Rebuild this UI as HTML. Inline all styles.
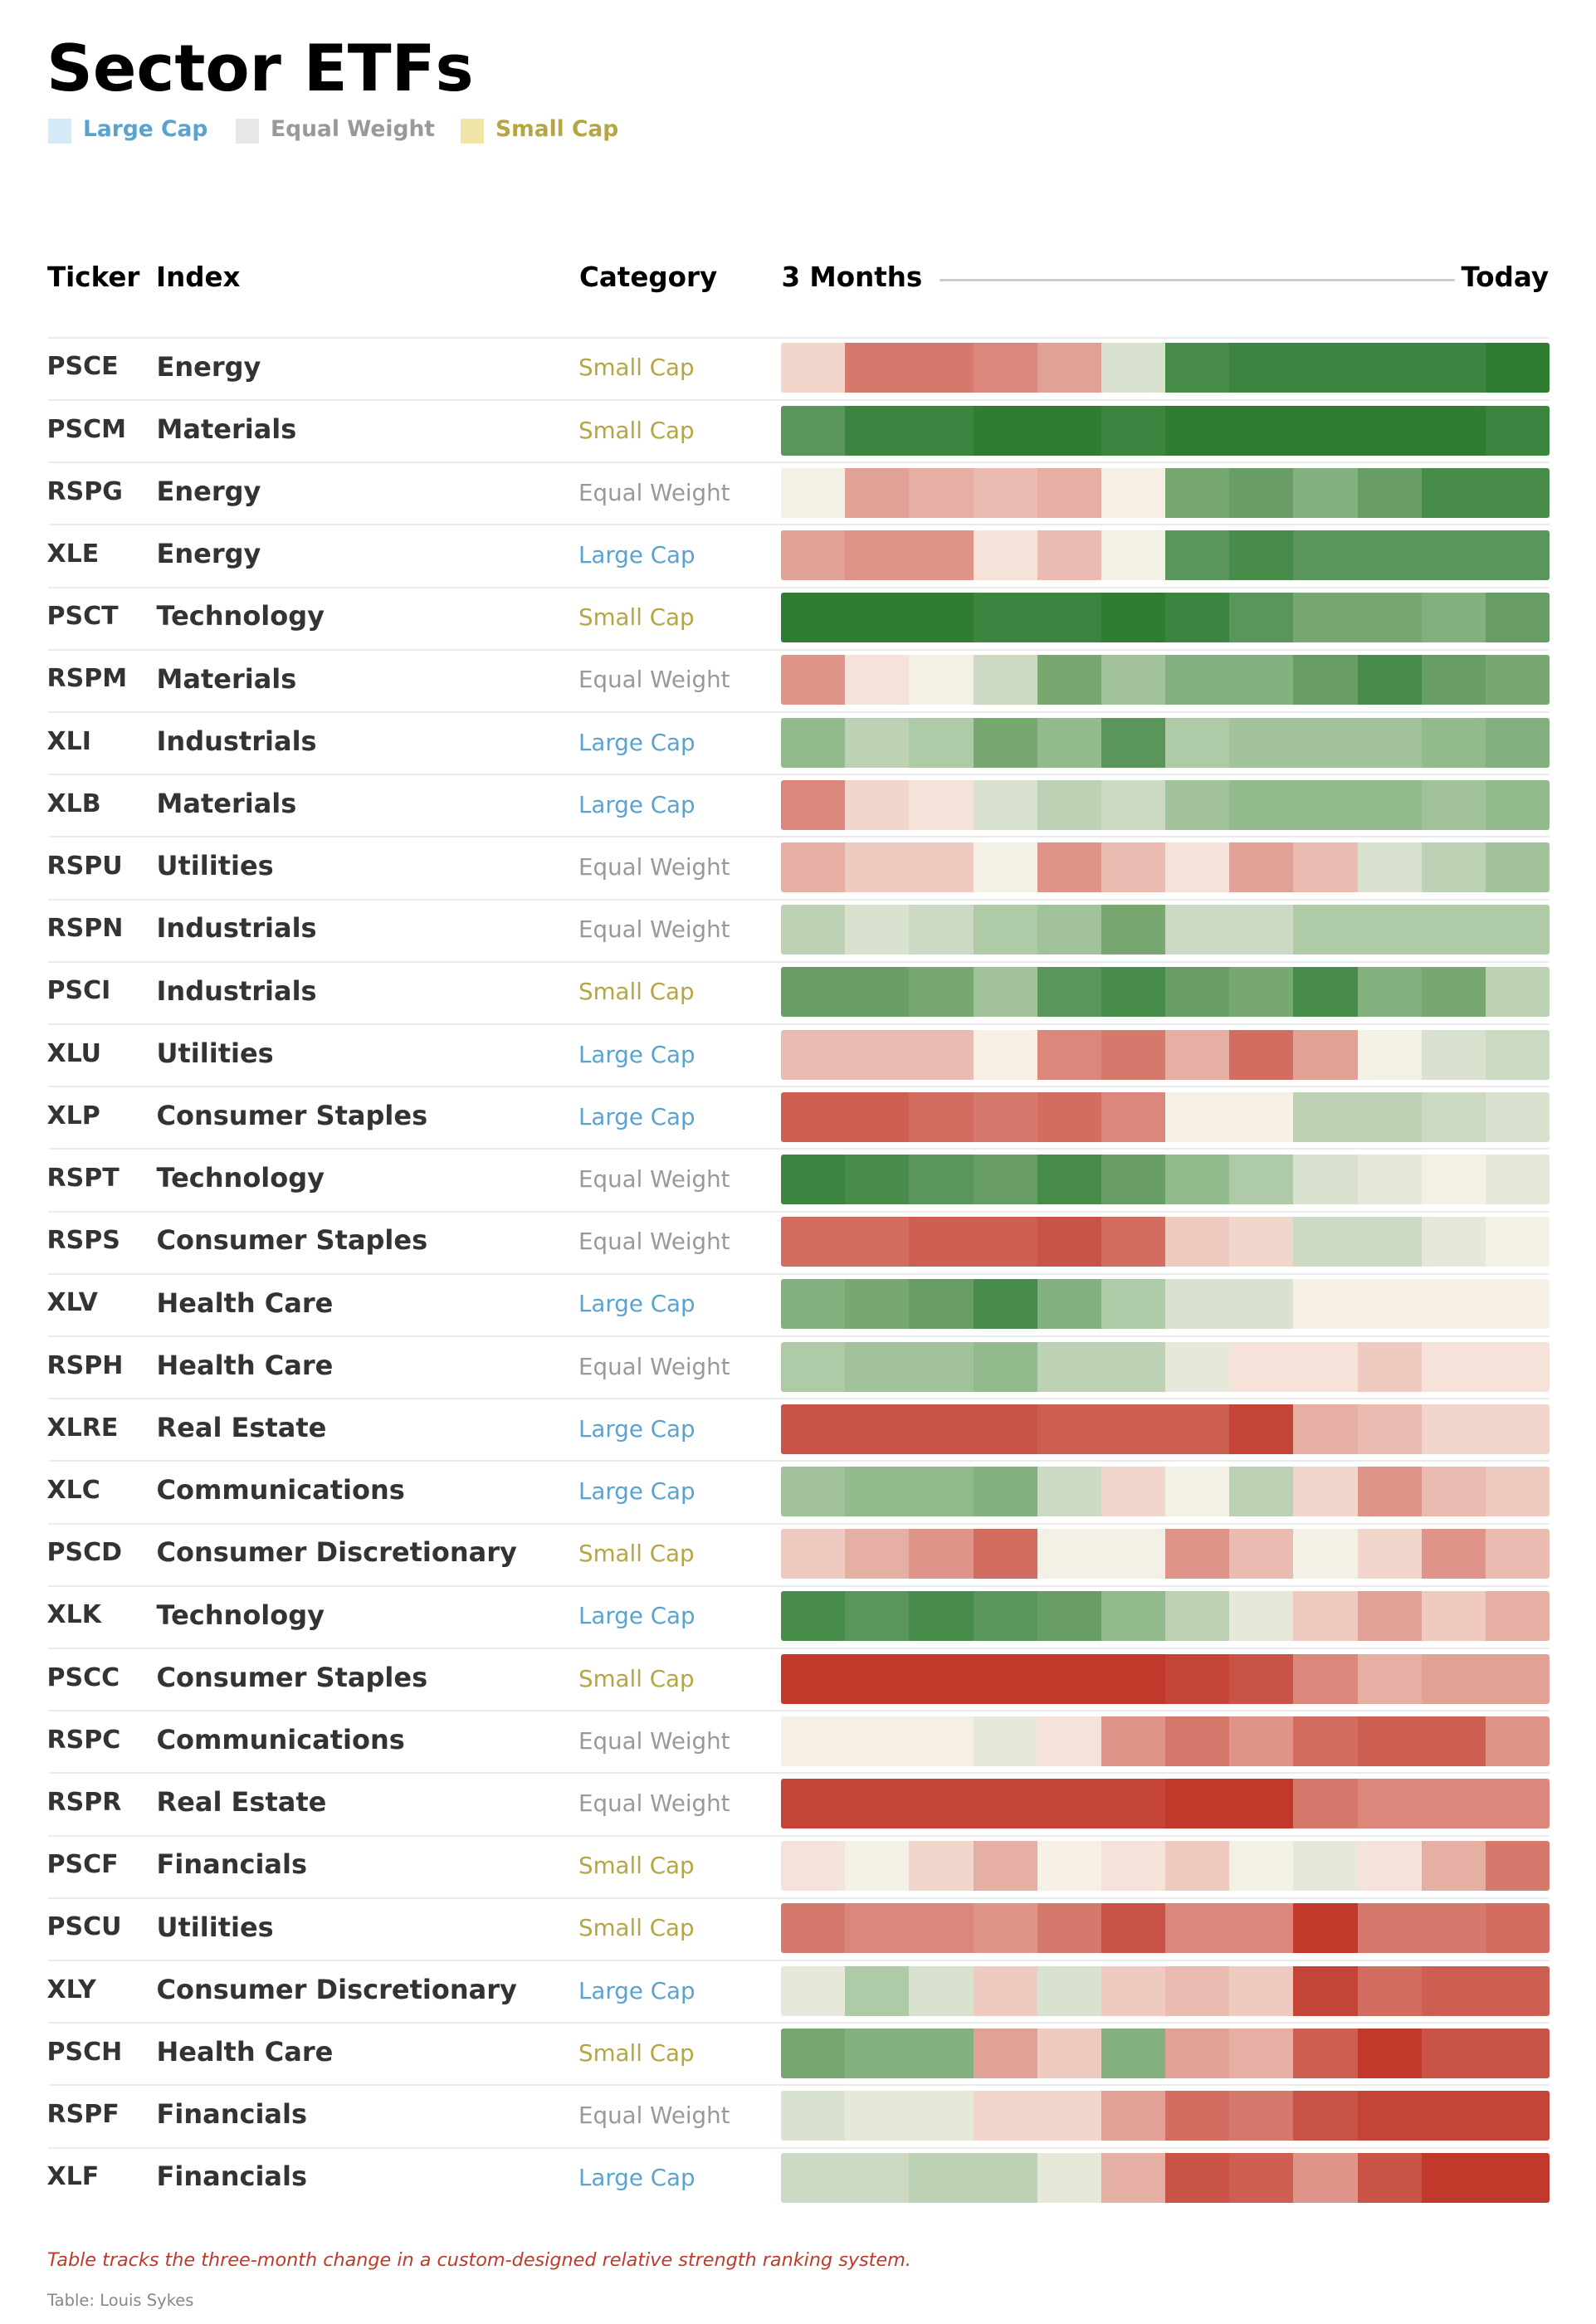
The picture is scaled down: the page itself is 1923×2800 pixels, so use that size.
<!DOCTYPE html>
<html>
<head>
<meta charset="utf-8">
<style>
html,body{margin:0;padding:0;background:#fff;}
body{width:1923px;height:2800px;position:relative;overflow:hidden;font-family:"DejaVu Sans","Liberation Sans",sans-serif;}
.a{position:absolute;white-space:nowrap;line-height:1;}
.title{left:56px;top:45px;font-size:77.5px;font-weight:bold;color:#000;}
.lg{top:143.3px;font-size:26.5px;font-weight:bold;}
.sq{position:absolute;top:143.3px;width:28px;height:30px;}
.hd{top:317.5px;font-size:32.5px;font-weight:bold;color:#000;}
.row{position:absolute;left:0;width:1923px;height:75px;}
.sep{position:absolute;left:58px;width:1809px;top:0;height:2px;background:#ebebeb;}
.tk{position:absolute;left:56.5px;top:21.6px;font-size:30px;font-weight:bold;color:#333;line-height:1;white-space:nowrap;}
.ix{position:absolute;left:188.5px;top:19.9px;font-size:32px;font-weight:bold;color:#333;line-height:1;white-space:nowrap;}
.ct{position:absolute;left:697px;top:23.5px;font-size:27.7px;color:#999;line-height:1;white-space:nowrap;}
.ct.s{color:#b5a642;}
.ct.l{color:#5ba3cf;}
.ct.e{color:#999999;}
.bar{position:absolute;left:941px;top:7.5px;width:926px;height:60px;display:flex;border-radius:3px;overflow:hidden;}
.bar i{flex:1 1 0;display:block;height:100%;}
.g1{background:#2e7d32}.g2{background:#3c8540}.g3{background:#488c4b}.g4{background:#5a965b}
.g5{background:#689e65}.g6{background:#76a870}.g7{background:#83b07f}.g8{background:#93ba8c}
.g9{background:#a1c29a}.ga{background:#aecaa6}.gb{background:#bdd1b5}.gc{background:#ccdac4}
.gd{background:#d9e2cf}.ge{background:#e6e9da}.n1{background:#f3f1e6}.n2{background:#f7f0e6}
.r1{background:#f5e3da}.r2{background:#f2d5cb}.r3{background:#eecac0}.r4{background:#e9bbb1}
.r5{background:#e5afa4}.r6{background:#e1a197}.r7{background:#de9488}.r8{background:#db877c}
.r9{background:#d6796d}.ra{background:#d36d62}.rb{background:#cd5f52}.rc{background:#c85346}
.rd{background:#c44538}.re{background:#c0392b}
.foot{left:57px;top:2711.5px;font-size:22.3px;font-style:italic;color:#c0392b;}
.src{left:57px;top:2762px;font-size:19.5px;color:#888;}
</style>
</head>
<body>
<div class="a title">Sector ETFs</div>

<div class="sq" style="left:58px;background:#d6e9f7;"></div>
<div class="a lg" style="left:100px;color:#5ba3cf;">Large Cap</div>
<div class="sq" style="left:284px;background:#e8e8e8;"></div>
<div class="a lg" style="left:326px;color:#999999;">Equal Weight</div>
<div class="sq" style="left:555px;background:#efe5a8;"></div>
<div class="a lg" style="left:597px;color:#b5a642;">Small Cap</div>

<div class="a hd" style="left:57px;">Ticker</div>
<div class="a hd" style="left:188px;">Index</div>
<div class="a hd" style="left:698px;">Category</div>
<div class="a hd" style="left:941.5px;">3 Months</div>
<div style="position:absolute;left:1132px;top:336px;width:621px;height:3px;border-radius:2px;background:#cccccc;"></div>
<div class="a hd" style="right:57px;">Today</div>

<div class="row" style="top:405.8px"><div class="sep"></div><div class="tk">PSCE</div><div class="ix">Energy</div><div class="ct s">Small Cap</div><div class="bar"><i class="r2"></i><i class="r9"></i><i class="r9"></i><i class="r8"></i><i class="r6"></i><i class="gd"></i><i class="g3"></i><i class="g2"></i><i class="g2"></i><i class="g2"></i><i class="g2"></i><i class="g1"></i></div></div>
<div class="row" style="top:481px"><div class="sep"></div><div class="tk">PSCM</div><div class="ix">Materials</div><div class="ct s">Small Cap</div><div class="bar"><i class="g4"></i><i class="g2"></i><i class="g2"></i><i class="g1"></i><i class="g1"></i><i class="g2"></i><i class="g1"></i><i class="g1"></i><i class="g1"></i><i class="g1"></i><i class="g1"></i><i class="g2"></i></div></div>
<div class="row" style="top:556.2px"><div class="sep"></div><div class="tk">RSPG</div><div class="ix">Energy</div><div class="ct e">Equal Weight</div><div class="bar"><i class="n1"></i><i class="r6"></i><i class="r5"></i><i class="r4"></i><i class="r5"></i><i class="n2"></i><i class="g6"></i><i class="g5"></i><i class="g7"></i><i class="g5"></i><i class="g3"></i><i class="g3"></i></div></div>
<div class="row" style="top:631.4px"><div class="sep"></div><div class="tk">XLE</div><div class="ix">Energy</div><div class="ct l">Large Cap</div><div class="bar"><i class="r6"></i><i class="r7"></i><i class="r7"></i><i class="r1"></i><i class="r4"></i><i class="n1"></i><i class="g4"></i><i class="g3"></i><i class="g4"></i><i class="g4"></i><i class="g4"></i><i class="g4"></i></div></div>
<div class="row" style="top:706.6px"><div class="sep"></div><div class="tk">PSCT</div><div class="ix">Technology</div><div class="ct s">Small Cap</div><div class="bar"><i class="g1"></i><i class="g1"></i><i class="g1"></i><i class="g2"></i><i class="g2"></i><i class="g1"></i><i class="g2"></i><i class="g4"></i><i class="g6"></i><i class="g6"></i><i class="g7"></i><i class="g5"></i></div></div>
<div class="row" style="top:781.8px"><div class="sep"></div><div class="tk">RSPM</div><div class="ix">Materials</div><div class="ct e">Equal Weight</div><div class="bar"><i class="r7"></i><i class="r1"></i><i class="n1"></i><i class="gc"></i><i class="g6"></i><i class="g9"></i><i class="g7"></i><i class="g7"></i><i class="g5"></i><i class="g3"></i><i class="g5"></i><i class="g6"></i></div></div>
<div class="row" style="top:857px"><div class="sep"></div><div class="tk">XLI</div><div class="ix">Industrials</div><div class="ct l">Large Cap</div><div class="bar"><i class="g8"></i><i class="gb"></i><i class="ga"></i><i class="g6"></i><i class="g8"></i><i class="g4"></i><i class="ga"></i><i class="g9"></i><i class="g9"></i><i class="g9"></i><i class="g8"></i><i class="g7"></i></div></div>
<div class="row" style="top:932.2px"><div class="sep"></div><div class="tk">XLB</div><div class="ix">Materials</div><div class="ct l">Large Cap</div><div class="bar"><i class="r8"></i><i class="r2"></i><i class="r1"></i><i class="gd"></i><i class="gb"></i><i class="gc"></i><i class="g9"></i><i class="g8"></i><i class="g8"></i><i class="g8"></i><i class="g9"></i><i class="g8"></i></div></div>
<div class="row" style="top:1007.4px"><div class="sep"></div><div class="tk">RSPU</div><div class="ix">Utilities</div><div class="ct e">Equal Weight</div><div class="bar"><i class="r5"></i><i class="r3"></i><i class="r3"></i><i class="n1"></i><i class="r7"></i><i class="r4"></i><i class="r1"></i><i class="r6"></i><i class="r4"></i><i class="gd"></i><i class="gb"></i><i class="g9"></i></div></div>
<div class="row" style="top:1082.6px"><div class="sep"></div><div class="tk">RSPN</div><div class="ix">Industrials</div><div class="ct e">Equal Weight</div><div class="bar"><i class="gb"></i><i class="gd"></i><i class="gc"></i><i class="ga"></i><i class="g9"></i><i class="g6"></i><i class="gc"></i><i class="gc"></i><i class="ga"></i><i class="ga"></i><i class="ga"></i><i class="ga"></i></div></div>
<div class="row" style="top:1157.8px"><div class="sep"></div><div class="tk">PSCI</div><div class="ix">Industrials</div><div class="ct s">Small Cap</div><div class="bar"><i class="g5"></i><i class="g5"></i><i class="g6"></i><i class="g9"></i><i class="g4"></i><i class="g3"></i><i class="g5"></i><i class="g6"></i><i class="g3"></i><i class="g7"></i><i class="g6"></i><i class="gb"></i></div></div>
<div class="row" style="top:1233px"><div class="sep"></div><div class="tk">XLU</div><div class="ix">Utilities</div><div class="ct l">Large Cap</div><div class="bar"><i class="r4"></i><i class="r4"></i><i class="r4"></i><i class="n2"></i><i class="r8"></i><i class="r9"></i><i class="r5"></i><i class="ra"></i><i class="r6"></i><i class="n1"></i><i class="gd"></i><i class="gc"></i></div></div>
<div class="row" style="top:1308.2px"><div class="sep"></div><div class="tk">XLP</div><div class="ix">Consumer Staples</div><div class="ct l">Large Cap</div><div class="bar"><i class="rb"></i><i class="rb"></i><i class="ra"></i><i class="r9"></i><i class="ra"></i><i class="r8"></i><i class="n2"></i><i class="n2"></i><i class="gb"></i><i class="gb"></i><i class="gc"></i><i class="gd"></i></div></div>
<div class="row" style="top:1383.4px"><div class="sep"></div><div class="tk">RSPT</div><div class="ix">Technology</div><div class="ct e">Equal Weight</div><div class="bar"><i class="g2"></i><i class="g3"></i><i class="g4"></i><i class="g5"></i><i class="g3"></i><i class="g5"></i><i class="g8"></i><i class="ga"></i><i class="gd"></i><i class="ge"></i><i class="n1"></i><i class="ge"></i></div></div>
<div class="row" style="top:1458.6px"><div class="sep"></div><div class="tk">RSPS</div><div class="ix">Consumer Staples</div><div class="ct e">Equal Weight</div><div class="bar"><i class="ra"></i><i class="ra"></i><i class="rb"></i><i class="rb"></i><i class="rc"></i><i class="ra"></i><i class="r3"></i><i class="r2"></i><i class="gc"></i><i class="gc"></i><i class="ge"></i><i class="n1"></i></div></div>
<div class="row" style="top:1533.8px"><div class="sep"></div><div class="tk">XLV</div><div class="ix">Health Care</div><div class="ct l">Large Cap</div><div class="bar"><i class="g7"></i><i class="g6"></i><i class="g5"></i><i class="g3"></i><i class="g7"></i><i class="ga"></i><i class="gd"></i><i class="gd"></i><i class="n2"></i><i class="n2"></i><i class="n2"></i><i class="n2"></i></div></div>
<div class="row" style="top:1609px"><div class="sep"></div><div class="tk">RSPH</div><div class="ix">Health Care</div><div class="ct e">Equal Weight</div><div class="bar"><i class="ga"></i><i class="g9"></i><i class="g9"></i><i class="g8"></i><i class="gb"></i><i class="gb"></i><i class="ge"></i><i class="r1"></i><i class="r1"></i><i class="r3"></i><i class="r1"></i><i class="r1"></i></div></div>
<div class="row" style="top:1684.2px"><div class="sep"></div><div class="tk">XLRE</div><div class="ix">Real Estate</div><div class="ct l">Large Cap</div><div class="bar"><i class="rc"></i><i class="rc"></i><i class="rc"></i><i class="rc"></i><i class="rb"></i><i class="rb"></i><i class="rb"></i><i class="rd"></i><i class="r5"></i><i class="r4"></i><i class="r2"></i><i class="r2"></i></div></div>
<div class="row" style="top:1759.4px"><div class="sep"></div><div class="tk">XLC</div><div class="ix">Communications</div><div class="ct l">Large Cap</div><div class="bar"><i class="g9"></i><i class="g8"></i><i class="g8"></i><i class="g7"></i><i class="gc"></i><i class="r2"></i><i class="n1"></i><i class="gb"></i><i class="r2"></i><i class="r7"></i><i class="r4"></i><i class="r3"></i></div></div>
<div class="row" style="top:1834.6px"><div class="sep"></div><div class="tk">PSCD</div><div class="ix">Consumer Discretionary</div><div class="ct s">Small Cap</div><div class="bar"><i class="r3"></i><i class="r5"></i><i class="r7"></i><i class="ra"></i><i class="n1"></i><i class="n1"></i><i class="r7"></i><i class="r4"></i><i class="n1"></i><i class="r2"></i><i class="r7"></i><i class="r4"></i></div></div>
<div class="row" style="top:1909.8px"><div class="sep"></div><div class="tk">XLK</div><div class="ix">Technology</div><div class="ct l">Large Cap</div><div class="bar"><i class="g3"></i><i class="g4"></i><i class="g3"></i><i class="g4"></i><i class="g5"></i><i class="g8"></i><i class="gb"></i><i class="ge"></i><i class="r3"></i><i class="r6"></i><i class="r3"></i><i class="r5"></i></div></div>
<div class="row" style="top:1985px"><div class="sep"></div><div class="tk">PSCC</div><div class="ix">Consumer Staples</div><div class="ct s">Small Cap</div><div class="bar"><i class="re"></i><i class="re"></i><i class="re"></i><i class="re"></i><i class="re"></i><i class="re"></i><i class="rd"></i><i class="rc"></i><i class="r8"></i><i class="r5"></i><i class="r6"></i><i class="r6"></i></div></div>
<div class="row" style="top:2060.2px"><div class="sep"></div><div class="tk">RSPC</div><div class="ix">Communications</div><div class="ct e">Equal Weight</div><div class="bar"><i class="n2"></i><i class="n2"></i><i class="n2"></i><i class="ge"></i><i class="r1"></i><i class="r7"></i><i class="r9"></i><i class="r7"></i><i class="ra"></i><i class="rb"></i><i class="rb"></i><i class="r7"></i></div></div>
<div class="row" style="top:2135.4px"><div class="sep"></div><div class="tk">RSPR</div><div class="ix">Real Estate</div><div class="ct e">Equal Weight</div><div class="bar"><i class="rd"></i><i class="rd"></i><i class="rd"></i><i class="rd"></i><i class="rd"></i><i class="rd"></i><i class="re"></i><i class="re"></i><i class="r9"></i><i class="r8"></i><i class="r8"></i><i class="r8"></i></div></div>
<div class="row" style="top:2210.6px"><div class="sep"></div><div class="tk">PSCF</div><div class="ix">Financials</div><div class="ct s">Small Cap</div><div class="bar"><i class="r1"></i><i class="n1"></i><i class="r2"></i><i class="r5"></i><i class="n2"></i><i class="r1"></i><i class="r3"></i><i class="n1"></i><i class="ge"></i><i class="r1"></i><i class="r5"></i><i class="r9"></i></div></div>
<div class="row" style="top:2285.8px"><div class="sep"></div><div class="tk">PSCU</div><div class="ix">Utilities</div><div class="ct s">Small Cap</div><div class="bar"><i class="r9"></i><i class="r8"></i><i class="r8"></i><i class="r7"></i><i class="r9"></i><i class="rc"></i><i class="r8"></i><i class="r8"></i><i class="re"></i><i class="r9"></i><i class="r9"></i><i class="ra"></i></div></div>
<div class="row" style="top:2361px"><div class="sep"></div><div class="tk">XLY</div><div class="ix">Consumer Discretionary</div><div class="ct l">Large Cap</div><div class="bar"><i class="ge"></i><i class="ga"></i><i class="gd"></i><i class="r3"></i><i class="gd"></i><i class="r3"></i><i class="r4"></i><i class="r3"></i><i class="rd"></i><i class="ra"></i><i class="rb"></i><i class="rb"></i></div></div>
<div class="row" style="top:2436.2px"><div class="sep"></div><div class="tk">PSCH</div><div class="ix">Health Care</div><div class="ct s">Small Cap</div><div class="bar"><i class="g6"></i><i class="g7"></i><i class="g7"></i><i class="r6"></i><i class="r3"></i><i class="g7"></i><i class="r6"></i><i class="r5"></i><i class="rb"></i><i class="re"></i><i class="rc"></i><i class="rc"></i></div></div>
<div class="row" style="top:2511.4px"><div class="sep"></div><div class="tk">RSPF</div><div class="ix">Financials</div><div class="ct e">Equal Weight</div><div class="bar"><i class="gd"></i><i class="ge"></i><i class="ge"></i><i class="r2"></i><i class="r2"></i><i class="r6"></i><i class="ra"></i><i class="r9"></i><i class="rc"></i><i class="rd"></i><i class="rd"></i><i class="rd"></i></div></div>
<div class="row" style="top:2586.6px"><div class="sep"></div><div class="tk">XLF</div><div class="ix">Financials</div><div class="ct l">Large Cap</div><div class="bar"><i class="gc"></i><i class="gc"></i><i class="gb"></i><i class="gb"></i><i class="ge"></i><i class="r5"></i><i class="rc"></i><i class="rb"></i><i class="r7"></i><i class="rc"></i><i class="re"></i><i class="re"></i></div></div>

<div class="a foot">Table tracks the three-month change in a custom-designed relative strength ranking system.</div>
<div class="a src">Table: Louis Sykes</div>
</body>
</html>
